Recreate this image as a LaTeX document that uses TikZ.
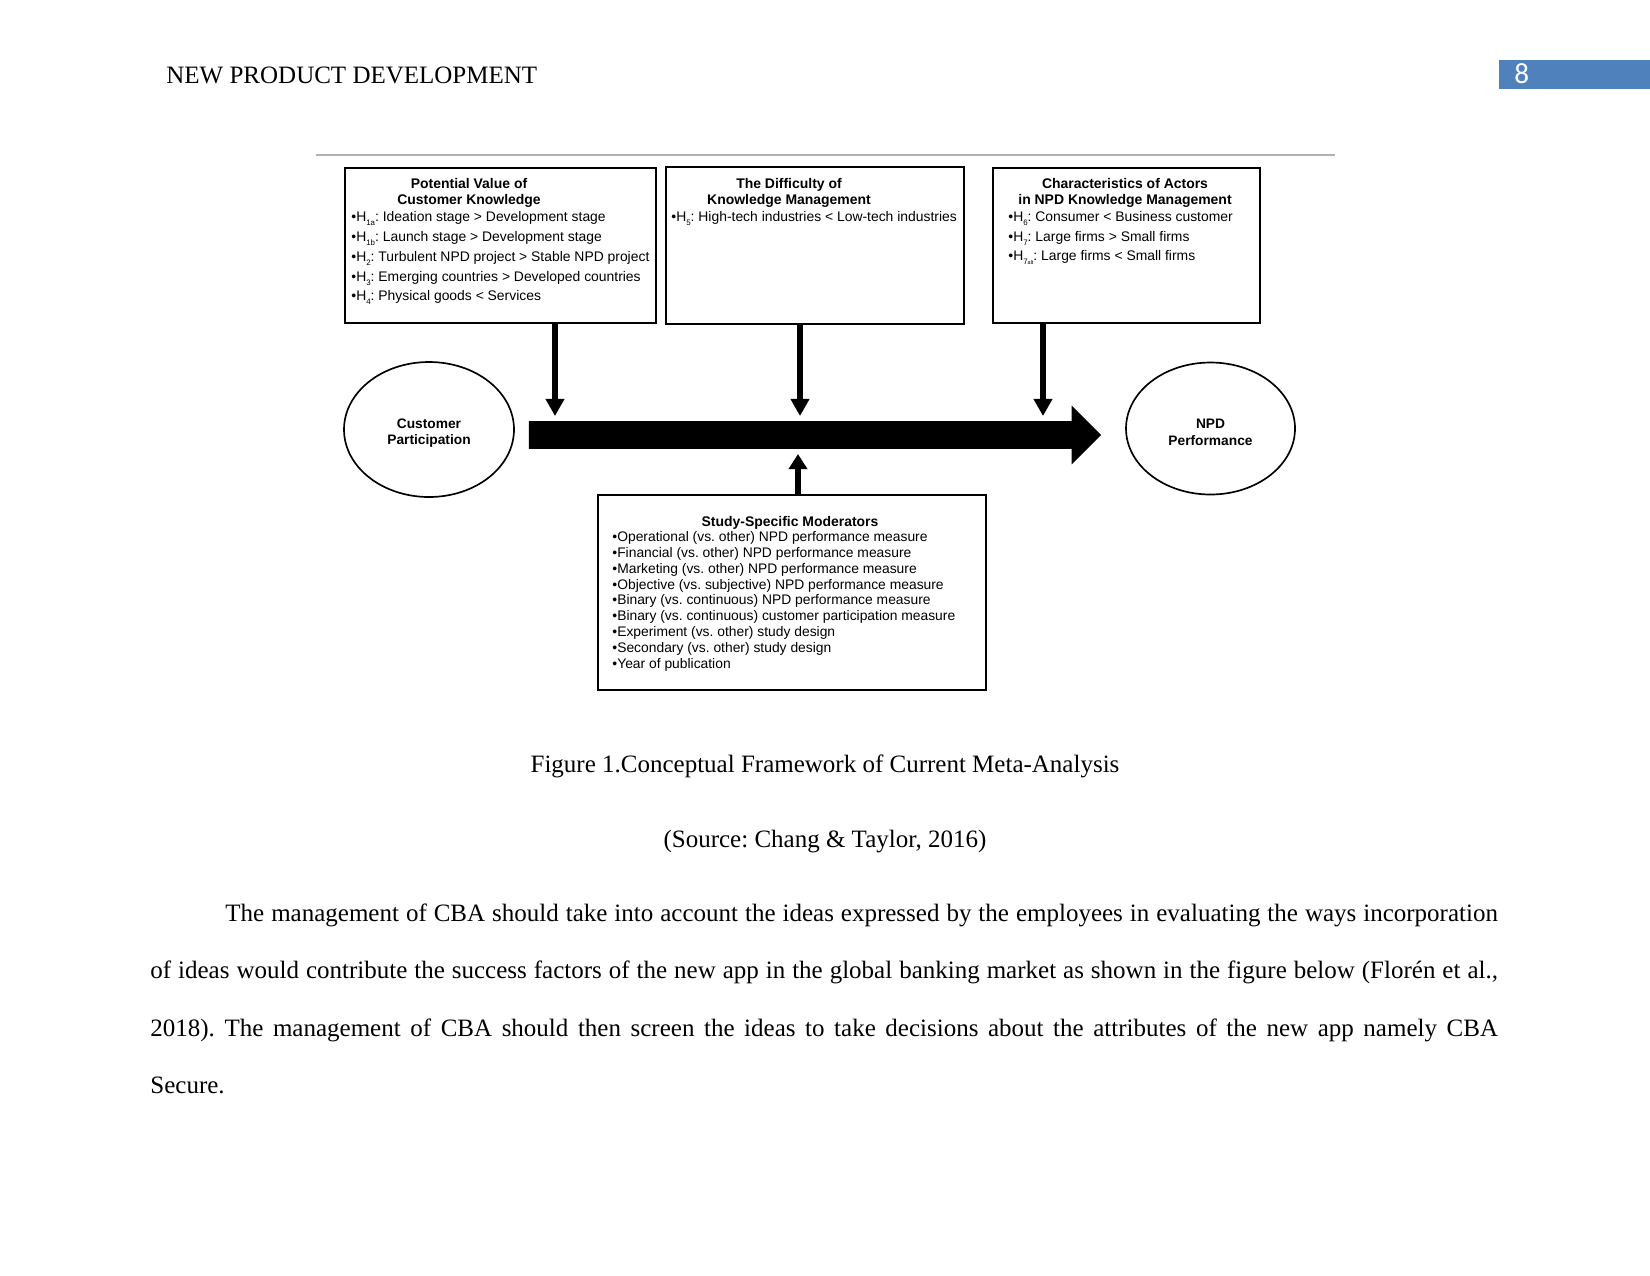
\documentclass[tikz,border=0pt]{standalone}
\usepackage{fontspec}
\setmainfont{Liberation Serif}
\newfontfamily\arialf{Liberation Sans}
\newfontfamily\calib{Carlito}
\usetikzlibrary{arrows.meta,shapes.geometric}
\definecolor{pgblue}{HTML}{4F81BD}
\newcommand{\Hsub}[1]{H\raisebox{-0.55ex}{\fontsize{3.8pt}{4pt}\selectfont #1}}
\frenchspacing
\begin{document}
\begin{tikzpicture}[x=0.48pt,y=-0.48pt,
  box/.style={draw, line width=1pt, inner sep=0, anchor=north west},
  ell/.style={ellipse, draw, line width=0.8pt, inner sep=0,
    minimum width={170*0.48pt}, minimum height={135*0.48pt}},
  elt/.style={inner sep=0, align=center, font=\arialf\bfseries\fontsize{6.6pt}{7.9pt}\selectfont},
  hd/.style={font=\arialf\bfseries\fontsize{6.7pt}{8pt}\selectfont, anchor=base, inner sep=0},
  it/.style={font=\arialf\fontsize{6.67pt}{8pt}\selectfont, anchor=base west, inner sep=0},
  itb/.style={font=\arialf\fontsize{6.65pt}{8pt}\selectfont, anchor=base west, inner sep=0},
  dn/.style={line width=2.6pt, -{Triangle[width=8.6pt,length=8.2pt]}},
  up/.style={line width=2.6pt, -{Triangle[width=8.6pt,length=7.2pt]}},
  big/.style={line width=13.4pt, -{Triangle[width=27.4pt,length=14.2pt]}},
  serif/.style={font=\fontsize{12pt}{14pt}\selectfont, inner sep=0}
]
\fill[white] (0,0) rectangle (1650,1275);
\useasboundingbox (0,0) rectangle (1650,1275);

% header
\node[serif, anchor=base west] (hdr) at (166,83) {NEW PRODUCT DEVELOPMENT};
\node[fill=pgblue, inner sep=0, anchor=north west,
  minimum width={151*0.48pt}, minimum height={29*0.48pt}] (pg) at (1499,60) {};
\node[font=\calib\fontsize{14pt}{16pt}\selectfont, text=white, inner sep=0, anchor=base west] (pgn) at (1514,83) {8};

% rule
\draw[black!30, line width=0.6pt] (316,155) -- (1335,155);

% boxes
\node[box, minimum width={311*0.48pt}, minimum height={155*0.48pt}] (box1) at (344,167) {};
\node[box, minimum width={298*0.48pt}, minimum height={157*0.48pt}] (box2) at (665,166) {};
\node[box, minimum width={267*0.48pt}, minimum height={155*0.48pt}] (box3) at (992,167) {};
\node[box, minimum width={388*0.48pt}, minimum height={195*0.48pt}] (box4) at (597,494) {};

% box1 text
\node[hd] (b1a) at (469,188.5) {Potential Value of};
\node[hd] (b1b) at (469,204.8) {Customer Knowledge};
\node[it] (b1i1) at (351,221.3) {•\Hsub{1a}: Ideation stage > Development stage};
\node[it] (b1i2) at (351,241.2) {•\Hsub{1b}: Launch stage > Development stage};
\node[it] (b1i3) at (351,261.1) {•\Hsub{2}: Turbulent NPD project > Stable NPD project};
\node[it] (b1i4) at (351,281.0) {•\Hsub{3}: Emerging countries > Developed countries};
\node[it] (b1i5) at (351,300.8) {•\Hsub{4}: Physical goods < Services};

% box2 text
\node[hd] (b2a) at (789,188.5) {The Difficulty of};
\node[hd] (b2b) at (789,204.8) {Knowledge Management};
\node[it] (b2i1) at (671,221.3) {•\Hsub{5}: High-tech industries < Low-tech industries};

% box3 text
\node[hd] (b3a) at (1125,188.5) {Characteristics of Actors};
\node[hd] (b3b) at (1125,204.8) {in NPD Knowledge Management};
\node[it] (b3i1) at (1008,221.3) {•\Hsub{6}: Consumer < Business customer};
\node[it] (b3i2) at (1008,241.0) {•\Hsub{7}: Large firms > Small firms};
\node[it] (b3i3) at (1008,260.8) {•\Hsub{7{\fontsize{2.6pt}{3pt}\selectfont alt}}: Large firms < Small firms};

% box4 text
\node[hd] (b4a) at (790,526.5) {Study-Specific Moderators};
\node[itb] (b4i1) at (612,541.5) {•Operational (vs. other) NPD performance measure};
\node[itb] (b4i2) at (612,557.3) {•Financial (vs. other) NPD performance measure};
\node[itb] (b4i3) at (612,573.2) {•Marketing (vs. other) NPD performance measure};
\node[itb] (b4i4) at (612,589.0) {•Objective (vs. subjective) NPD performance measure};
\node[itb] (b4i5) at (612,604.8) {•Binary (vs. continuous) NPD performance measure};
\node[itb] (b4i6) at (612,620.7) {•Binary (vs. continuous) customer participation measure};
\node[itb] (b4i7) at (612,636.5) {•Experiment (vs. other) study design};
\node[itb] (b4i8) at (612,652.3) {•Secondary (vs. other) study design};
\node[itb] (b4i9) at (612,668.2) {•Year of publication};

% ellipses
\node[ell] (cp) at (429,429.5) {};
\node[elt] (cpt) at (429,433) {Customer\\Participation};
\node[ell, minimum width={169*0.48pt}, minimum height={132*0.48pt}] (npd) at (1210.5,428.5) {};
\node[elt] (npdt) at (1210.5,432.5) {NPD\\Performance};

% main arrow
\draw[big] ([xshift=6.72pt,yshift=-2.64pt]cp.east) -- ([xshift=-11.5pt,yshift=-3.1pt]npd.west);

% moderator arrows
\coordinate (t1) at (555,416);
\coordinate (t2) at (800,416);
\coordinate (t3) at (1043,416);
\coordinate (t4) at (798,454);
\draw[dn] (box1.south -| t1) -- (t1);
\draw[dn] (box2.south -| t2) -- (t2);
\draw[dn] (box3.south -| t3) -- (t3);
\draw[up] (box4.north -| t4) -- (t4);

% caption
\node[serif, anchor=base] (cap) at (825,772) {Figure 1.Conceptual Framework of Current Meta-Analysis};
\node[serif, anchor=base] (src) at (825,847) {(Source: Chang \& Taylor, 2016)};

% paragraph
\node[inner sep=0, anchor=north west, text width={1347.5*0.48pt}, align=justify,
  font=\fontsize{12pt}{27.5pt}\selectfont] (para) at (150,900.2)
{\frenchspacing\tolerance=9999\emergencystretch=2em\hyphenpenalty=10000\rule{0pt}{10pt}\hspace*{36pt}The management of CBA should take into account the ideas expressed by the employees in evaluating the ways incorporation\linebreak of ideas would contribute the success factors of the new app in the global banking market as shown in the figure below (Florén et al.,\linebreak 2018). The management of CBA should then screen the ideas to take decisions about the attributes of the new app namely CBA\linebreak Secure.};
\end{tikzpicture}
\end{document}
